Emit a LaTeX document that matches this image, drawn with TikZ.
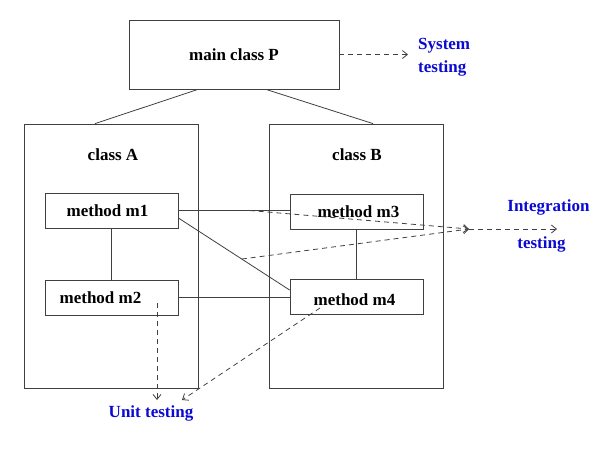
\documentclass[tikz,border=0pt]{standalone}
\usepackage{fontspec}
\setmainfont{Liberation Serif}
\usetikzlibrary{arrows.meta,calc}
\definecolor{testblue}{RGB}{10,10,210}
\tikzset{
  linecol/.style = {draw=black!75, line width=0.8pt},
  methodbox/.style = {linecol, minimum width=133pt, minimum height=35pt,
    inner sep=0pt, font=\fontsize{17}{20}\selectfont\bfseries},
  classbox/.style = {linecol, minimum width=174pt, minimum height=264pt,
    inner sep=0pt},
  boxlabel/.style = {inner sep=0pt, font=\fontsize{17}{20}\selectfont\bfseries},
  testlabel/.style = {inner sep=0pt, text=testblue,
    font=\fontsize{17}{23}\selectfont\bfseries},
  testarrow/.style = {linecol, dashed, dash pattern=on 5pt off 4pt, ->}}

\begin{document}
\begin{tikzpicture}[x=1pt,y=-1pt,>={Straight Barb[length=5pt,width=8pt]}]
\useasboundingbox (0,0) rectangle (602,451);

% classes
\node [methodbox, minimum width=210pt, minimum height=69pt] (P) at (234,54.5) {main class P};
\node [classbox] (A) at (111,256) {};
\node [classbox] (B) at (356,256) {};
\node [boxlabel] (Alab) at (113,155) {class A};
\node [boxlabel] (Blab) at (357,155) {class B};

% methods
\node [methodbox, label={[boxlabel,xshift=-4pt]center:method m1}] (m1) at (111.5,210.5) {};
\node [methodbox, label={[boxlabel,xshift=-11pt]center:method m2}] (m2) at (111.5,297.5) {};
\node [methodbox, label={[boxlabel,xshift=2pt]center:method m3}] (m3) at (356.5,211.5) {};
\node [methodbox, label={[boxlabel,xshift=-2pt,yshift=-3pt]center:method m4}] (m4) at (356.5,296.5) {};

% labels
\node [testlabel, align=left, anchor=west] (sys) at (418,57) {System\\testing};
\node [testlabel] (integ) at (548.5,207) {Integration};
\node [testlabel] (integb) at (541.5,244) {testing};
\node [testlabel] (unit) at (151,413) {Unit testing};

% connections
\draw [linecol] ([xshift=-36pt]P.south) -- ([xshift=-16pt]A.north);
\draw [linecol] ([xshift=32pt]P.south) -- ([xshift=17pt]B.north);
\draw [linecol] (m1) -- (m2);
\draw [linecol] (m3) -- (m4);
\draw [linecol] (m1.east) -- (m1.east -| m3.west);
\draw [linecol] ([yshift=-7.5pt]m1.east) -- ([yshift=6.5pt]m4.west);
\draw [linecol] (m2.east) -- (m2.east -| m4.west);

% testing arrows
\coordinate (ptip) at (408,54.5);
\coordinate (ihub) at (469,229);
\coordinate (iend) at (557,229);
\coordinate (u2) at (157,303);
\coordinate (u4) at (320,308);
\coordinate (u2tip) at (157,400);
\coordinate (u4tip) at (182,400);
\draw [testarrow] (P.east) -- (ptip);
\draw [testarrow] ($(m1.east)!0.64!(m1.east -| m3.west)$) -- (ihub);
\draw [testarrow] ($([yshift=-7.5pt]m1.east)!0.57!([yshift=6.5pt]m4.west)$) -- (ihub);
\draw [testarrow] (ihub) -- (iend);
\draw [testarrow] (u2) -- (u2tip);
\draw [testarrow] (u4) -- (u4tip);
\end{tikzpicture}
\end{document}
